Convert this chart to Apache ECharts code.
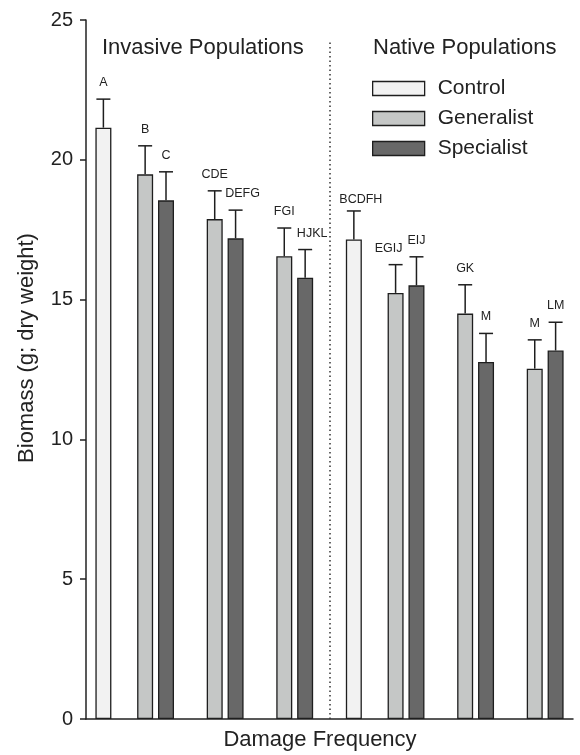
<!DOCTYPE html>
<html>
<head>
<meta charset="utf-8">
<script src="https://cdn.jsdelivr.net/npm/echarts@6/dist/echarts.min.js"></script>
<style>
  html, body { margin: 0; padding: 0; background: #fff; }
  #chart { width: 580px; height: 755px; }
</style>
</head>
<body>
<div id="chart"></div>
<script>
// ---------------- data ----------------
const groups = ['Invasive 0', 'Invasive 1', 'Invasive 2', 'Invasive 3',
                'Native 0', 'Native 1', 'Native 2', 'Native 3'];
const seriesNames = ['Control', 'Generalist', 'Specialist'];
const control      = [21.15, null, null, null, 17.15, null, null, null];
const generalist   = [null, 19.48, 17.88, 16.55, null, 15.24, 14.50, 12.53];
const specialist   = [null, 18.55, 17.19, 15.78, null, 15.51, 12.77, 13.18];
const controlSE    = [1.02, null, null, null, 1.02, null, null, null];
const generalistSE = [null, 1.02, 1.01, 1.01, null, 1.01, 1.03, 1.03];
const specialistSE = [null, 1.02, 1.01, 1.01, null, 1.02, 1.02, 1.01];
const controlLetters    = ['A', '', '', '', 'BCDFH', '', '', ''];
const generalistLetters = ['', 'B', 'CDE', 'FGI', '', 'EGIJ', 'GK', 'M'];
const specialistLetters = ['', 'C', 'DEFG', 'HJKL', '', 'EIJ', 'M', 'LM'];
const yTicks = [0, 5, 10, 15, 20, 25];
const panelTitles = ['Invasive Populations', 'Native Populations'];
const xTitle = 'Damage Frequency';
const yTitle = 'Biomass (g; dry weight)';

// ---------------- layout (positions / styles, not data) ----------------
const LAYOUT = { span: 70, halfStart: [0, 36], controlAt: 2.5, pairAt: [10, 20, 30], pitch: 3, divider: 35, dividerTop: 24.2 };
const FONT = '"Liberation Sans", Arial, Helvetica, sans-serif';
const COLORS = ['#f2f2f2', '#c5c7c6', '#686868'];
const EDGE = '#1e1e1e';
// small label nudges [dx, dy] in px keyed by "series-group"
const labelNudge = { '0-4': [7, 5], '2-2': [7, 0], '2-3': [7, 0], '1-5': [-7, 0] };

function slotX(g, s) {
  const half = g < 4 ? 0 : 1, k = g % 4, base = LAYOUT.halfStart[half];
  if (s === 0) return base + LAYOUT.controlAt;
  return base + LAYOUT.pairAt[k - 1] + (s === 1 ? -1 : 1) * LAYOUT.pitch / 2;
}

const values = [control, generalist, specialist];
const ses = [controlSE, generalistSE, specialistSE];
const letters = [controlLetters, generalistLetters, specialistLetters];

const barSeries = values.map((arr, s) => ({
  name: seriesNames[s],
  type: 'bar',
  barWidth: 16,
  barGap: '-100%',
  itemStyle: { color: COLORS[s], borderColor: EDGE, borderWidth: 1.3 },
  emphasis: { disabled: true },
  data: arr.map((v, g) => v == null ? null : [slotX(g, s), v]).filter(d => d),
  z: 2
}));

// divider line
barSeries[0].markLine = {
  silent: true, symbol: 'none', label: { show: false },
  lineStyle: { color: '#333', type: [1.5, 3], width: 1.5 },
  data: [[{ coord: [LAYOUT.divider, 0] }, { coord: [LAYOUT.divider, LAYOUT.dividerTop] }]]
};

const errData = [];
values.forEach((arr, s) => arr.forEach((v, g) => {
  if (v != null) errData.push([slotX(g, s), v, ses[s][g], s, g]);
}));

const errSeries = {
  type: 'custom',
  silent: true,
  z: 5,
  encode: { x: 0, y: 1 },
  data: errData,
  renderItem: function (params, api) {
    const x = api.value(0), v = api.value(1), se = api.value(2), s = api.value(3), g = api.value(4);
    const base = api.coord([x, v]);
    const top = api.coord([x, v + se]);
    const nud = labelNudge[s + '-' + g] || [0, 0];
    const style = { stroke: '#1e1e1e', lineWidth: 1.5 };
    return {
      type: 'group',
      children: [
        { type: 'line', shape: { x1: base[0], y1: base[1], x2: top[0], y2: top[1] }, style: style },
        { type: 'line', shape: { x1: top[0] - 7, y1: top[1], x2: top[0] + 7, y2: top[1] }, style: style },
        { type: 'text', x: top[0] + nud[0], y: top[1] - 16.5 + nud[1],
          style: { text: letters[s][g], fill: '#222', font: '12.5px ' + FONT, textAlign: 'center', textVerticalAlign: 'middle' } }
      ]
    };
  }
};

const chart = echarts.init(document.getElementById('chart'), null, { renderer: 'canvas' });
chart.setOption({
  animation: false,
  backgroundColor: '#fff',
  textStyle: { fontFamily: FONT },
  grid: { left: 86, right: 7, top: 20, bottom: 36, containLabel: false },
  legend: {
    orient: 'vertical', left: 372, top: 77, padding: 0,
    itemWidth: 52, itemHeight: 14, itemGap: 7,
    icon: 'rect',
    data: seriesNames,
    selectedMode: false,
    textStyle: { fontFamily: FONT, fontSize: 21, lineHeight: 23, color: '#222', padding: [0, 0, 0, 8] },
    itemStyle: { borderColor: EDGE, borderWidth: 1.3 }
  },
  xAxis: {
    type: 'value', min: 0, max: LAYOUT.span,
    axisLine: { show: true, lineStyle: { color: '#222', width: 1.5 } },
    axisTick: { show: false }, axisLabel: { show: false }, splitLine: { show: false }
  },
  yAxis: {
    type: 'value', min: yTicks[0], max: yTicks[yTicks.length - 1], interval: yTicks[1] - yTicks[0],
    axisLine: { show: true, lineStyle: { color: '#222', width: 1.5 } },
    axisTick: { show: true, inside: false, length: 6, lineStyle: { color: '#222', width: 1.5 } },
    axisLabel: { fontFamily: FONT, fontSize: 20, color: '#222', margin: 13 },
    splitLine: { show: false }
  },
  graphic: [
    { type: 'text', x: 102, y: 48, style: { text: panelTitles[0], font: '22px ' + FONT, fill: '#222', textAlign: 'left', textVerticalAlign: 'middle' } },
    { type: 'text', x: 373, y: 48, style: { text: panelTitles[1], font: '22px ' + FONT, fill: '#222', textAlign: 'left', textVerticalAlign: 'middle' } },
    { type: 'text', x: 320, y: 740, style: { text: xTitle, font: '22px ' + FONT, fill: '#222', textAlign: 'center', textVerticalAlign: 'middle' } },
    { type: 'text', x: 27, y: 348, rotation: Math.PI / 2, style: { text: yTitle, font: '22px ' + FONT, fill: '#222', textAlign: 'center', textVerticalAlign: 'middle' } }
  ],
  series: barSeries.concat([errSeries])
});
</script>
</body>
</html>
